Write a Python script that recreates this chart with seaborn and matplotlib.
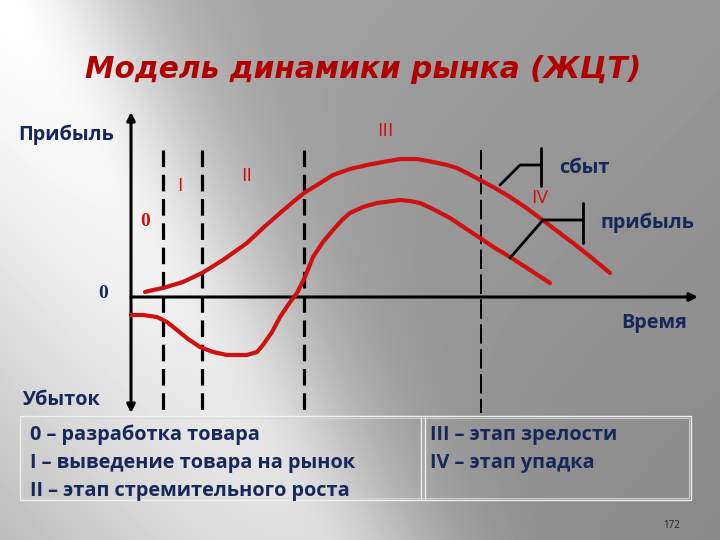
import numpy as np
import pandas as pd
import matplotlib
matplotlib.use("Agg")
import matplotlib.pyplot as plt
import seaborn as sns
from matplotlib.transforms import Affine2D
from matplotlib.patches import Rectangle

# ---------------- data (time units, value units; 0 = break-even line) -------------
sales_time = [2.47, 3.89, 5.65, 9.19, 12.54, 16.25, 20.49, 23.32, 26.33, 28.62, 30.57,
              32.86, 35.69, 38.69, 41.70, 44.52, 47.53, 50.53, 53.36, 55.83, 57.60,
              59.36, 61.66, 64.31, 66.96, 69.61, 72.26, 75.27, 78.09, 81.45, 84.63]
sales_value = [1.67, 2.33, 3.0, 5.0, 8.0, 12.33, 18.0, 23.0, 28.0, 31.67, 34.67,
               37.33, 40.67, 42.67, 44.0, 45.0, 46.0, 46.0, 45.0, 44.0, 43.0,
               41.33, 39.0, 36.33, 33.33, 30.0, 26.33, 22.0, 18.0, 13.0, 8.0]

profit_time = [0.0, 2.12, 4.59, 6.36, 8.13, 10.07, 12.19, 14.49, 16.96, 20.49, 22.26,
               23.32, 24.91, 26.33, 27.74, 29.33, 30.74, 32.16, 33.92, 35.69, 37.28,
               38.69, 40.99, 43.46, 47.53, 49.29, 51.06, 53.36, 56.36, 59.01, 61.66,
               64.31, 66.96, 70.49, 74.03]
profit_value = [-6.0, -6.0, -6.67, -8.33, -11.0, -14.0, -16.67, -18.33, -19.33, -19.33, -18.33,
                -16.0, -11.67, -6.67, -2.67, 1.33, 6.67, 13.33, 18.33, 22.33, 25.67,
                28.0, 30.0, 31.33, 32.33, 32.0, 31.33, 29.33, 26.33, 23.0, 19.67,
                16.33, 13.33, 9.0, 4.67]

stage_bounds = [5.7, 12.5, 30.6, 61.8]
stage_labels = ["0", "I", "II", "III", "IV"]

title = "Модель динамики рынка (ЖЦТ)"
legend_left = ["0 – разработка товара", "I – выведение товара на рынок", "II – этап стремительного роста"]
legend_right = ["III – этап зрелости", "IV – этап упадка"]

# ---------------- figure ----------------
sns.set_theme(style="white")
plt.rcParams['font.family'] = ['Open Sans', 'DejaVu Sans']

fig = plt.figure(figsize=(7.2, 5.4), dpi=100)
ax = fig.add_axes([0, 0, 1, 1])
X0, X1 = -131 / 5.66, (720 - 131) / 5.66
Y0, Y1 = (297 - 540) / 3.0, 297 / 3.0
ax.set_xlim(X0, X1)
ax.set_ylim(Y0, Y1)
ax.axis('off')

# pixel transform for layout elements
T = Affine2D().scale(1 / 720, -1 / 540).translate(0, 1) + fig.transFigure

# background gradient
H, W = 540, 720
yy, xx = np.mgrid[0:H, 0:W].astype(float)
norm = np.hypot(540, 300)
s = (xx * 540 - yy * 300) / norm
width = np.where(s < 0, 300.0, 115.0)
streak = np.exp(-(s / width) ** 2) * (1 - 0.3 * yy / H)
base = 0.66 - 0.07 * xx / W - 0.05 * yy / H
bg = np.clip(base + (1.0 - base) * streak, 0, 1)
ax.imshow(bg, cmap='gray', vmin=0, vmax=1, extent=[X0, X1, Y0, Y1],
          aspect='auto', zorder=0, interpolation='bilinear')

navy = '#16285a'
red = '#cf1010'

# axes arrows
ax.annotate('', xy=(0, (297 - 112) / 3), xytext=(0, (297 - 413) / 3),
            arrowprops=dict(arrowstyle='<|-|>', lw=2.2, color='black',
                            mutation_scale=12, shrinkA=0, shrinkB=0), zorder=3)
ax.annotate('', xy=((698 - 131) / 5.66, 0), xytext=(0, 0),
            arrowprops=dict(arrowstyle='-|>', lw=2.2, color='black',
                            mutation_scale=12, shrinkA=0, shrinkB=0), zorder=3)

# stage boundaries
for i, t in enumerate(stage_bounds):
    if i < 3:
        ax.plot([t, t], [(297 - 150) / 3, (297 - 413) / 3], color='black', lw=2.3,
                linestyle=(0, (5.2, 2.4)), zorder=2)
    else:
        ax.plot([t, t], [(297 - 150) / 3, (297 - 413) / 3], color='black', lw=1.4,
                linestyle=(0, (10, 2.8)), zorder=2)

# curves
df_s = pd.DataFrame({'t': sales_time, 'v': sales_value})
df_p = pd.DataFrame({'t': profit_time, 'v': profit_value})
sns.lineplot(data=df_s, x='t', y='v', ax=ax, color=red, lw=3.0, sort=False,
             zorder=4, solid_capstyle='round', solid_joinstyle='round')
sns.lineplot(data=df_p, x='t', y='v', ax=ax, color=red, lw=3.0, sort=False,
             zorder=4, solid_capstyle='round', solid_joinstyle='round')
ax.set_xlim(X0, X1)
ax.set_ylim(Y0, Y1)
ax.axis('off')

# brackets
ax.plot([500, 520, 541], [185, 165, 165], color='black', lw=2.0, transform=T, zorder=5)
ax.plot([541, 541], [148, 186], color='black', lw=2.0, transform=T, zorder=5)
ax.plot([510, 543, 583], [258, 220, 220], color='black', lw=2.0, transform=T, zorder=5)
ax.plot([583, 583], [203, 243], color='black', lw=2.0, transform=T, zorder=5)

# title
ax.text(363, 70, title, transform=T, ha='center', va='center', fontsize=21.3,
        color='#b00000', fontstyle='italic', fontweight='bold',
        family=['DejaVu Sans'], zorder=6)

def txt(x, y, s, ha='center', size=14.3, color=navy, weight='bold', fam=None):
    kw = {}
    if fam:
        kw['family'] = fam
    ax.text(x, y, s, transform=T, ha=ha, va='center', fontsize=size,
            color=color, fontweight=weight, zorder=6, **kw)

txt(18, 135, "Прибыль", ha='left')
txt(22, 400, "Убыток", ha='left')
txt(654, 323, "Время")
txt(584, 168, "сбыт")
txt(648, 223, "прибыль")

txt(145, 222, stage_labels[0], size=14, color=red, fam=['Liberation Serif'])
txt(180, 186, stage_labels[1], size=14, color=red, weight='normal')
txt(247, 176, stage_labels[2], size=14, color=red, weight='normal')
txt(385, 131, stage_labels[3], size=14, color=red, weight='normal')
txt(540, 198, stage_labels[4], size=14, color=red, weight='normal')
txt(103, 293, "0", size=14, color=navy, fam=['Liberation Serif'])

# legend box
ax.add_patch(Rectangle((20, 416), 671, 84, transform=T, fill=False,
                       edgecolor='#eeeeee', lw=1.0, zorder=5))
ax.add_patch(Rectangle((22, 418), 667, 80, transform=T, fill=False,
                       edgecolor='#d8d8d8', lw=0.6, zorder=5))
ax.plot([421, 421], [416, 500], color='#eeeeee', lw=1.0, transform=T, zorder=5)
ax.plot([425, 425], [416, 500], color='#eeeeee', lw=1.0, transform=T, zorder=5)

for i, s in enumerate(legend_left):
    txt(30, 435 + 28 * i, s, ha='left')
for i, s in enumerate(legend_right):
    txt(430, 435 + 28 * i, s, ha='left')

txt(672, 525, "172", size=7, color='#222222', weight='normal')

fig.savefig('out.png', dpi=100)
